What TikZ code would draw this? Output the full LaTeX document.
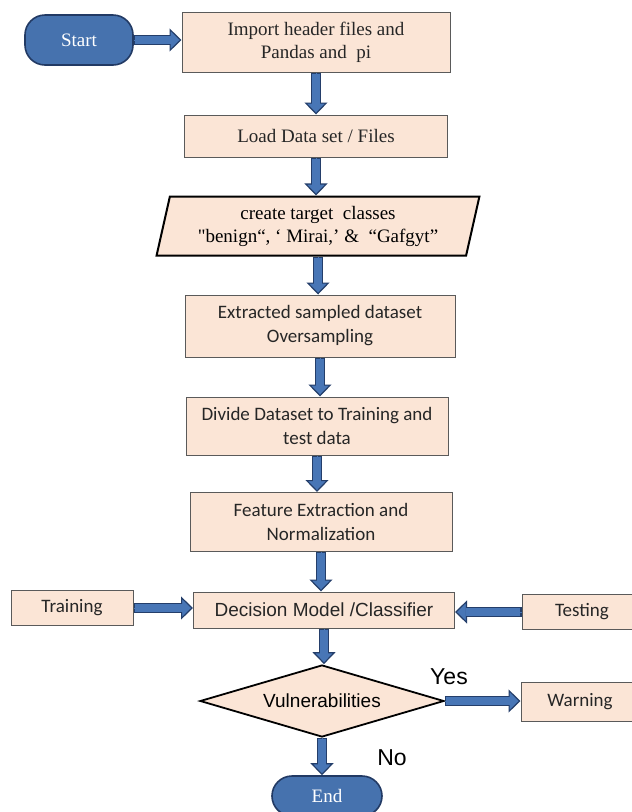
\documentclass[tikz,border=0pt]{standalone}
\usepackage{fontspec}
\setmainfont{Liberation Serif}
\newfontfamily\plainserif{Liberation Serif}
\newfontfamily\calibri{Carlito}
\newfontfamily\arial{Liberation Sans}
\usepackage{tikz}
\usetikzlibrary{positioning}
\usetikzlibrary{shapes.geometric}
\usetikzlibrary{arrows.meta}
\definecolor{peach}{RGB}{251,229,214}
\definecolor{boxgray}{RGB}{90,90,90}
\definecolor{termblue}{RGB}{70,114,174}
\definecolor{termline}{RGB}{34,58,100}
\definecolor{arrowblue}{RGB}{72,118,182}
\definecolor{arrowline}{RGB}{36,62,106}

\begin{document}
\begin{tikzpicture}[x=1pt,y=-1pt,
    box/.style={draw=boxgray,line width=1pt,fill=peach,inner sep=0pt,
                align=center,text=black!85},
    term/.style={draw=termline,line width=1.6pt,fill=termblue,
                rounded corners=20pt,inner sep=0pt,text=white,
                font=\fontsize{19}{23}\selectfont},
    serif/.style={font=\fontsize{19}{23}\selectfont},
    cal/.style={font=\calibri\fontsize{19}{24}\selectfont},
    ari/.style={font=\arial\fontsize{19}{23}\selectfont},
    flow/.style={draw=arrowblue,line width=.5pt,
        -{Triangle[width=23pt,length=12pt,line width=1.2pt,
                   color=arrowline,fill=arrowblue]},
        preaction={draw=arrowline,line width=10pt,shorten >=10pt,-},
        postaction={draw=arrowblue,line width=7.6pt,
                    shorten <=1.2pt,shorten >=10.5pt,-}}]

    \fill[white] (0,0) rectangle (632,812);
    \useasboundingbox (0,0) rectangle (632,812);

    %main column
    \node[term,minimum width=108,minimum height=50] (start) at (79,40) {Start};
    \node[box,serif,minimum width=268,minimum height=60] (import) at (316,42)
        {Import header files and\\Pandas and\ \ pi};
    \node[box,serif,minimum width=263,minimum height=42] (load) at (316,136)
        {Load Data set / Files};
    \node[trapezium,trapezium left angle=75,trapezium right angle=105,
          trapezium stretches=true,draw=black,line width=2pt,fill=peach,
          inner sep=0pt,minimum width=323,minimum height=59,align=center,
          serif] (classes) at (318,226)
        {create target\ \ classes\\{\plainserif\char34}benign“, ‘ Mirai,’ \&\ \ “Gafgyt”};
    \node[box,cal,minimum width=270,minimum height=62] (extract) at (320,326)
        {Extracted sampled dataset\\Oversampling};
    \node[box,cal,minimum width=262,minimum height=58] (divide) at (317,426)
        {Divide Dataset to Training and\\test data};
    \node[box,cal,minimum width=262,minimum height=59] (feature) at (321,522)
        {Feature Extraction and\\Normalization};
    \node[box,ari,minimum width=261,minimum height=36] (decision) at (324,610)
        {Decision Model /Classifier};
    \node[diamond,draw=black,line width=1.8pt,fill=peach,inner sep=0pt,
          aspect=3.4,minimum width=244,minimum height=72,ari] (vuln) at (322,701)
        {Vulnerabilities};
    \node[term,minimum width=110,minimum height=40] (end) at (327,796) {End};

    %side boxes
    \node[box,cal,minimum width=122,minimum height=35] (training) at (72,608) {Training};
    \node[box,cal,minimum width=120,minimum height=35] (testing) at (582,612) {Testing};
    \node[box,cal,minimum width=118,minimum height=39] (warning) at (580,702) {Warning};

    %labels
    \node[font=\arial\fontsize{23}{26}\selectfont] (yes) at (449,677) {Yes};
    \node[font=\arial\fontsize{23}{26}\selectfont] (no) at (392,758) {No};

    %arrows
    \draw[flow] (start.east) -- (start.east -| import.west);
    \draw[flow] (import.south) -- (import.south |- load.north);
    \draw[flow] (load.south) -- (load.south |- classes.north);
    \draw[flow] (classes.south) -- (classes.south |- extract.north);
    \draw[flow] (extract.south) -- (extract.south |- divide.north);
    \draw[flow] (divide.south) -- (divide.south |- feature.north);
    \draw[flow] (feature.south) -- (feature.south |- decision.north);
    \draw[flow] (training.east) -- (training.east -| decision.west);
    \draw[flow] (testing.west) -- (testing.west -| decision.east);
    \draw[flow] (decision.south) -- (decision.south |- vuln.north);
    \draw[flow] (vuln.east) -- (vuln.east -| warning.west);
    \draw[flow] (vuln.south) -- (vuln.south |- end.north);

\end{tikzpicture}
\end{document}
